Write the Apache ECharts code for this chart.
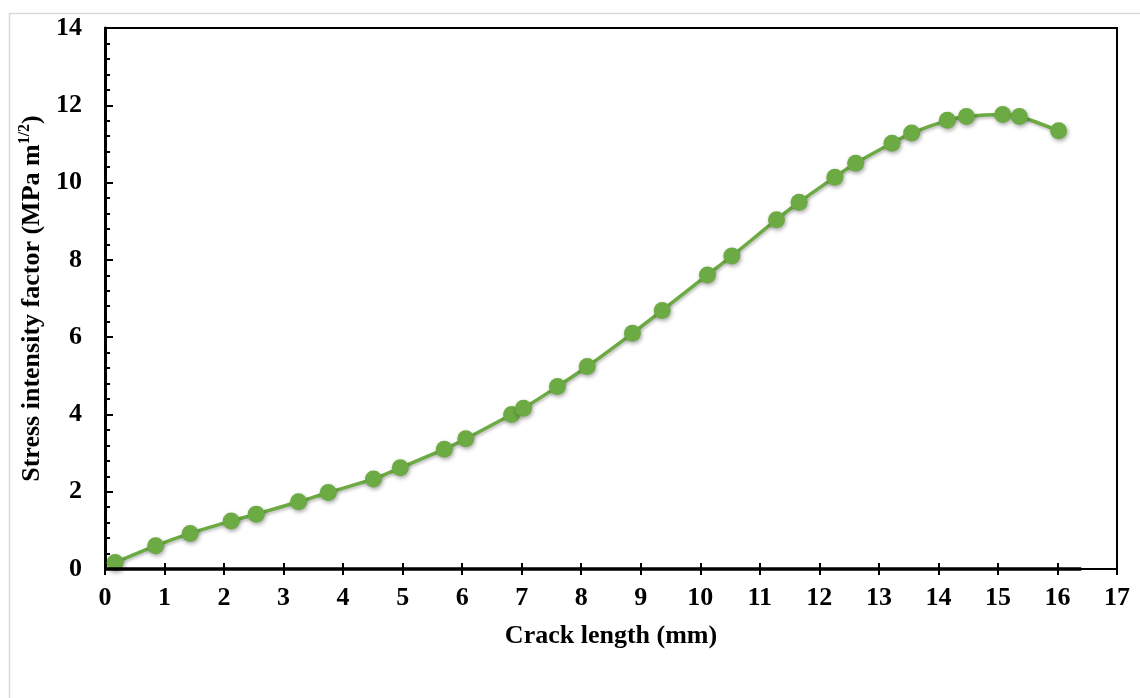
<!DOCTYPE html>
<html>
<head>
<meta charset="utf-8">
<script src="https://cdn.jsdelivr.net/npm/echarts@6/dist/echarts.min.js"></script>
<style>
html,body{margin:0;padding:0;background:#fff;}
#chart{width:1140px;height:698px;}
</style>
</head>
<body>
<div id="chart"></div>
<script>
// Crack length (mm)
const crackLength = [0.17, 0.85, 1.43, 2.12, 2.54, 3.25, 3.75, 4.51, 4.96, 5.70, 6.06, 6.83, 7.03, 7.60, 8.10, 8.86, 9.36, 10.12, 10.53, 11.28, 11.66, 12.26, 12.61, 13.22, 13.55, 14.15, 14.47, 15.08, 15.36, 16.02];
// Stress intensity factor (MPa m^1/2)
const stressIntensity = [0.17, 0.60, 0.92, 1.24, 1.42, 1.74, 1.98, 2.33, 2.62, 3.10, 3.37, 4.00, 4.16, 4.72, 5.24, 6.10, 6.69, 7.61, 8.10, 9.04, 9.49, 10.14, 10.50, 11.02, 11.28, 11.61, 11.71, 11.76, 11.71, 11.34];
const xTicks = {min: 0, max: 17, interval: 1};
const yTicks = {min: 0, max: 14, interval: 2};
const xTitle = 'Crack length (mm)';
const yTitleMain = 'Stress intensity factor (MPa m';
const yTitleSup = '1/2';

const green = '#6CAB43';
const font = 'Liberation Serif';

const chart = echarts.init(document.getElementById('chart'));
const data = crackLength.map((x, i) => [x, stressIntensity[i]]);

chart.setOption({
  animation: false,
  backgroundColor: '#fff',
  graphic: [{
    type: 'rect',
    left: 7, top: 11,
    shape: {width: 1200, height: 800},
    style: {fill: 'none', stroke: '#d9d9d9', lineWidth: 1.5},
    silent: true
  }],
  grid: {
    left: 105, top: 28, right: 23, bottom: 129,
    show: true, borderColor: '#000', borderWidth: 2, backgroundColor: 'transparent'
  },
  xAxis: [{
    type: 'value',
    min: xTicks.min, max: xTicks.max, interval: xTicks.interval,
    splitLine: {show: false},
    axisLine: {show: true, onZero: false, lineStyle: {color: '#000', width: 2}},
    axisTick: {show: true, inside: true, length: 6, lineStyle: {color: '#000', width: 2}},
    axisLabel: {color: '#000', fontFamily: font, fontWeight: 'bold', fontSize: 26, margin: 16},
    name: xTitle,
    nameLocation: 'middle',
    nameGap: 54,
    nameTextStyle: {color: '#000', fontFamily: font, fontWeight: 'bold', fontSize: 26}
  }, {
    type: 'value',
    position: 'bottom',
    min: xTicks.min, max: xTicks.max, interval: xTicks.interval,
    splitLine: {show: false},
    axisLine: {show: false},
    axisTick: {show: true, inside: false, length: 6, lineStyle: {color: '#000', width: 2}},
    axisLabel: {show: false}
  }],
  yAxis: {
    type: 'value',
    min: yTicks.min, max: yTicks.max, interval: yTicks.interval,
    splitLine: {show: false},
    axisLine: {show: true, onZero: false, lineStyle: {color: '#000', width: 3}},
    axisTick: {show: true, inside: true, length: 8, lineStyle: {color: '#000', width: 2}},
    minorTick: {show: true, splitNumber: 5, length: 5, lineStyle: {color: '#000', width: 2}},
    axisLabel: {color: '#000', fontFamily: font, fontWeight: 'bold', fontSize: 26, margin: 23},
    name: '{a|' + yTitleMain + '}{s|' + yTitleSup + '}{a|)}',
    nameLocation: 'middle',
    nameGap: 57,
    nameTextStyle: {
      color: '#000',
      rich: {
        a: {fontFamily: font, fontWeight: 'bold', fontSize: 26, color: '#000', lineHeight: 30},
        s: {fontFamily: font, fontWeight: 'bold', fontSize: 16, color: '#000', verticalAlign: 'top', lineHeight: 30, padding: [0, 0, 12, 0]}
      }
    }
  },
  series: [{
    type: 'line',
    xAxisIndex: 0,
    data: data,
    smooth: 0.3,
    symbol: 'circle',
    symbolSize: 17,
    itemStyle: {color: green, shadowBlur: 4, shadowColor: 'rgba(0,0,0,0.35)', shadowOffsetX: 1, shadowOffsetY: 2},
    lineStyle: {color: green, width: 3.5, shadowBlur: 3, shadowColor: 'rgba(0,0,0,0.25)', shadowOffsetX: 1, shadowOffsetY: 2},
    markLine: {
      silent: true,
      symbol: 'none',
      label: {show: false},
      lineStyle: {color: '#000', width: 3.5, type: 'solid'},
      data: [[{coord: [0, 0]}, {coord: [16.4, 0]}]]
    },
    z: 3
  }]
});
</script>
</body>
</html>
